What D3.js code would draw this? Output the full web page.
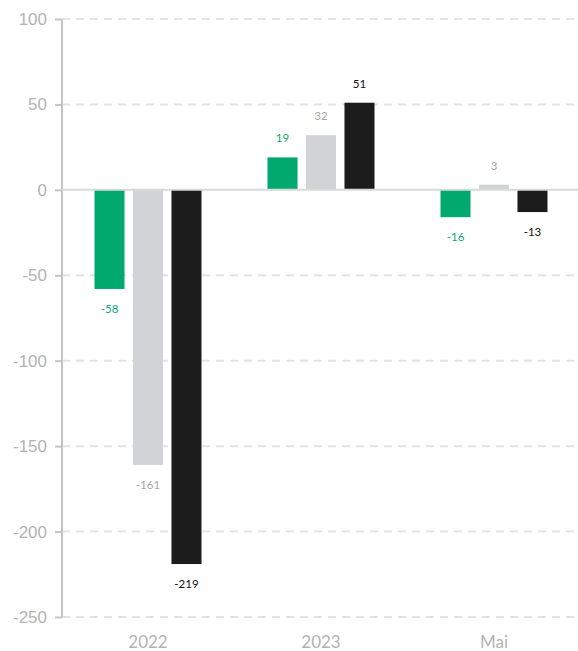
<!DOCTYPE html>
<html><head><meta charset="utf-8">
<script src="https://cdn.jsdelivr.net/npm/d3@7"></script>
<style>body{margin:0;background:#fff}svg{display:block;font-family:Lato,"Open Sans",sans-serif}</style>
</head><body><svg id="c" width="578" height="651"></svg>
<script>
const categories = ["2022", "2023", "Mai"];
const seriesNames = ["s1", "s2", "s3"];
const seriesColors = ["#02a96f", "#d1d3d6", "#1c1c1c"];
const labelColors = ["#12a872", "#a8a8a8", "#111111"];
const valuesS1 = [-58, 19, -16];
const valuesS2 = [-161, 32, 3];
const valuesS3 = [-219, 51, -13];
const yTicks = [100, 50, 0, -50, -100, -150, -200, -250];

const svg = d3.select("#c");
const y = d3.scaleLinear().domain([-250, 100]).range([617, 19]);
const x0 = d3.scaleBand().domain(categories).range([61.5, 580.5]);
const x1 = d3.scaleBand().domain(seriesNames).range([33, 140]).paddingInner(0.22);
const allVals = [valuesS1, valuesS2, valuesS3];

// gridlines
svg.append("g").selectAll("line").data(yTicks.filter(t => t !== 0)).join("line")
  .attr("x1", 62).attr("x2", 578).attr("y1", d => y(d)).attr("y2", d => y(d))
  .attr("stroke", "#e3e3e3").attr("stroke-width", 2).attr("stroke-dasharray", "8,6");

// y axis
const yAxis = d3.axisLeft(y).tickValues(yTicks).tickSize(7).tickPadding(8).tickFormat(d => String(d));
const ga = svg.append("g").attr("transform", "translate(62,0)").call(yAxis);
ga.select(".domain").attr("stroke", "#c4c4c4").attr("stroke-width", 2).attr("d", `M0,${y(100)}V${y(-250)}`);
ga.selectAll(".tick line").attr("stroke", "#c4c4c4").attr("stroke-width", 2);
ga.selectAll(".tick text").attr("fill", "#b3b3b3").attr("font-size", 17);

// bars
const groups = svg.append("g").selectAll("g").data(categories).join("g")
  .attr("transform", d => `translate(${x0(d)},0)`);
groups.selectAll("rect").data((c, i) => seriesNames.map((s, j) => ({s, j, v: allVals[j][i]}))).join("rect")
  .attr("x", d => x1(d.s)).attr("width", x1.bandwidth())
  .attr("y", d => y(Math.max(0, d.v))).attr("height", d => Math.abs(y(d.v) - y(0)))
  .attr("fill", d => seriesColors[d.j]);
groups.selectAll("text").data((c, i) => seriesNames.map((s, j) => ({s, j, v: allVals[j][i]}))).join("text")
  .attr("x", d => x1(d.s) + x1.bandwidth() / 2)
  .attr("y", d => d.v >= 0 ? y(d.v) - 19 : y(d.v) + 20)
  .attr("dy", "0.35em").attr("text-anchor", "middle")
  .attr("font-size", 11.5).attr("fill", d => labelColors[d.j])
  .text(d => String(d.v));

// zero line
svg.append("line").attr("x1", 62).attr("x2", 578).attr("y1", y(0)).attr("y2", y(0))
  .attr("stroke", "#d9d9d9").attr("stroke-width", 2);

// x labels
svg.append("g").selectAll("text").data(categories).join("text")
  .attr("x", d => x0(d) + x0.bandwidth() / 2).attr("y", 642).attr("dy", "0.35em")
  .attr("text-anchor", "middle").attr("fill", "#b3b3b3").attr("font-size", 17)
  .text(d => d);
</script></body></html>
